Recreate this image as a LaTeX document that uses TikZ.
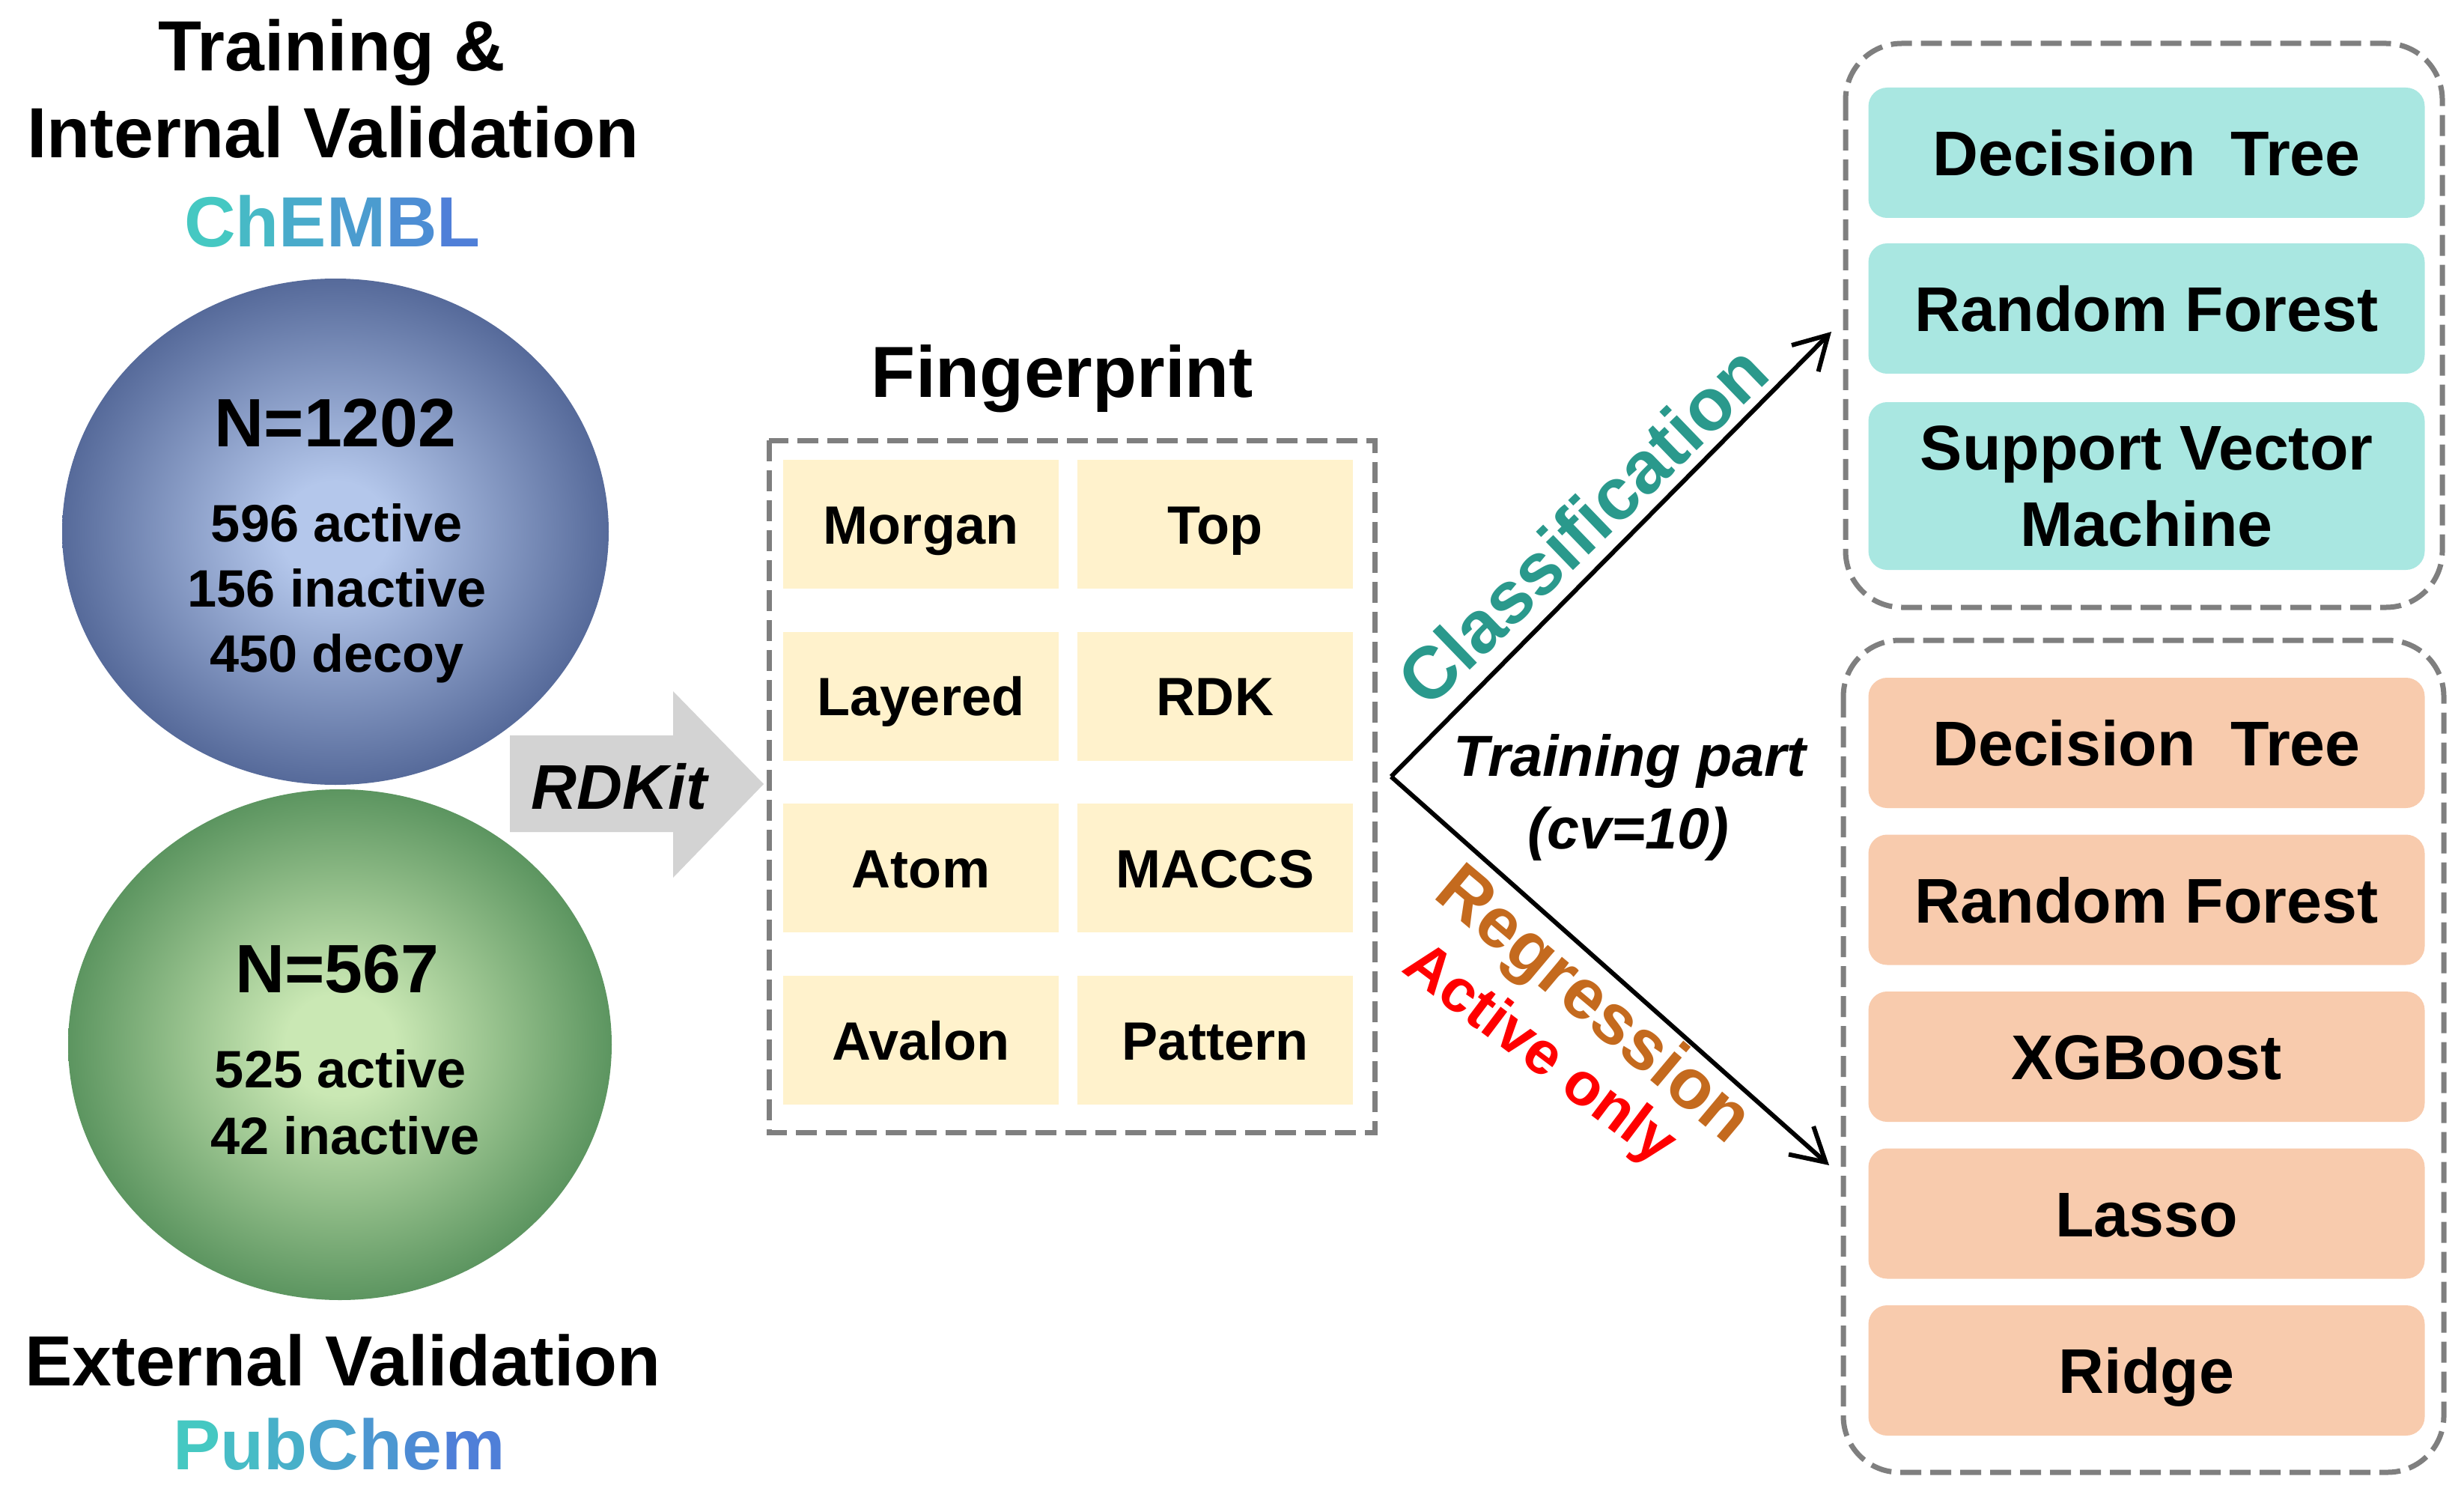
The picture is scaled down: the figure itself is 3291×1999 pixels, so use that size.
\documentclass[tikz,border=0pt]{standalone}
\usepackage{fontspec}
\setmainfont{Liberation Sans}
\usepackage{tikz}
\usetikzlibrary{arrows.meta}
\usetikzlibrary{positioning}
\usetikzlibrary{shapes.geometric}
\definecolor{fpyellow}{HTML}{FFF2CC}
\definecolor{clsteal}{HTML}{A9E7E1}
\definecolor{regsalmon}{HTML}{F8CBAD}
\definecolor{dashgray}{HTML}{7F7F7F}
\definecolor{clstext}{HTML}{2A998C}
\definecolor{regtext}{HTML}{C46A1E}
\definecolor{dbteal}{HTML}{45C8C2}
\definecolor{dbblue}{HTML}{4F7FD8}
\definecolor{rdkgray}{HTML}{D3D3D3}
\definecolor{ballbluein}{HTML}{B4C7EB}
\definecolor{ballblueout}{HTML}{566A9A}
\definecolor{ballgreenin}{HTML}{CAE8B4}
\definecolor{ballgreenout}{HTML}{5C9560}
\pgfdeclareradialshading{blueball}{\pgfpoint{0bp}{0bp}}{color(0bp)=(ballbluein); color(5bp)=(ballbluein); color(25bp)=(ballblueout); color(50bp)=(ballblueout)}
\pgfdeclareradialshading{greenball}{\pgfpoint{0bp}{0bp}}{color(0bp)=(ballgreenin); color(5bp)=(ballgreenin); color(25bp)=(ballgreenout); color(50bp)=(ballgreenout)}
\tikzset{hdr/.style = {font=\fontsize{27}{32}\selectfont\bfseries, anchor=base, inner sep=0}}
\tikzset{count/.style = {font=\fontsize{20}{24}\selectfont\bfseries, anchor=base, inner sep=0}}
\tikzset{bignum/.style = {font=\fontsize{26}{30}\selectfont\bfseries, anchor=base, inner sep=0}}
\tikzset{fpcell/.style = {fill=fpyellow, minimum width=36.8mm, minimum height=17.2mm, inner sep=0,
    text height=5.2mm, text depth=0mm, font=\fontsize{20.5}{24}\selectfont\bfseries}}
\tikzset{mlcell/.style = {rounded corners=2.5mm, minimum width=74.3mm, minimum height=17.4mm, inner sep=0,
    align=center, text height=6.1mm, text depth=0mm, font=\fontsize{24}{29}\selectfont\bfseries}}
\tikzset{clscell/.style = {mlcell, fill=clsteal}}
\tikzset{regcell/.style = {mlcell, fill=regsalmon}}
\tikzset{dashbox/.style = {draw=dashgray, line width=0.7mm, dash pattern=on 2.8mm off 1.2mm}}
\tikzset{flow/.style = {line width=0.6mm, -{Straight Barb[length=4.4mm, width=5mm]}}}

\begin{document}
\begin{tikzpicture}[x=0.1mm, y=-0.1mm]
      \fill[white] (0,0) rectangle (3291,1999);
      \useasboundingbox (0,0) rectangle (3291,1999);
      % data sets
      \node[hdr] (ttltrain) at (443,95) {Training \&};
      \node[hdr] (ttlinternal) at (445,211) {Internal Validation};
      \node[hdr] (chembl) at (444,330) {\textcolor{dbteal}{C}\textcolor{dbblue!20!dbteal}{h}\textcolor{dbblue!40!dbteal}{E}\textcolor{dbblue!60!dbteal}{M}\textcolor{dbblue!80!dbteal}{B}\textcolor{dbblue}{L}};
      \node[ellipse, shade, shading=blueball, minimum width=73mm, minimum height=67.6mm, inner sep=0] (chemblset) at (448,710) {};
      \node[bignum] (chembln) at (448,596) {N=1202};
      \foreach \txt/\y [count=\i] in {596 active/723, 156 inactive/810, 450 decoy/897} {
        \node[count] (chemblc\i) at (450,\y) {\txt};
      }
      \node[ellipse, shade, shading=greenball, minimum width=72.6mm, minimum height=68.2mm, inner sep=0] (pubchemset) at (454,1395) {};
      \node[bignum] (pubchemn) at (450,1325) {N=567};
      \node[count] (pubchemc1) at (455,1452) {525 active};
      \node[count] (pubchemc2) at (461,1541) {42 inactive};
      \node[hdr] (ttlexternal) at (458,1850) {External Validation};
      \node[hdr] (pubchem) at (453,1962) {\textcolor{dbteal}{P}\textcolor{dbblue!17!dbteal}{u}\textcolor{dbblue!33!dbteal}{b}\textcolor{dbblue!50!dbteal}{C}\textcolor{dbblue!67!dbteal}{h}\textcolor{dbblue!83!dbteal}{e}\textcolor{dbblue}{m}};
      % RDKit arrow
      \fill[rdkgray] (681,982) -- (899,982) -- (899,923) -- (1020,1047) -- (899,1172) -- (899,1111) -- (681,1111) -- cycle;
      \node[anchor=base, inner sep=0, font=\fontsize{24}{28}\selectfont\bfseries\itshape] (rdkit) at (827,1080) {RDKit};
      % fingerprints
      \node[hdr, font=\fontsize{27.5}{32}\selectfont\bfseries] (fptitle) at (1419,530) {Fingerprint};
      \draw[dashbox] (1027,588) rectangle (1836,1512);
      \foreach \fp [count=\i from 0] in {Morgan, Top, Layered, RDK, Atom, MACCS, Avalon, Pattern} {
        \pgfmathtruncatemacro\col{mod(\i,2)};
        \pgfmathtruncatemacro\row{div(\i,2)};
        \node[fpcell] (fp\i) at ({1230+393*\col}, {700+229.7*\row}) {\fp};
      }
      % split
      \coordinate (split) at (1858,1037);
      \coordinate (clsend) at (2446,443);
      \coordinate (regend) at (2443,1556);
      \draw[flow] (split) -- (clsend);
      \draw[flow] (split) -- (regend);
      \node[rotate=44, text=clstext, inner sep=0, font=\fontsize{28}{32}\selectfont\bfseries] (clslbl) at (2113,701) {Classification};
      \node[rotate=-40, text=regtext, inner sep=0, font=\fontsize{27}{32}\selectfont\bfseries] (reglbl) at (2126,1345) {Regression};
      \node[rotate=-37, text=red, inner sep=0, font=\fontsize{23}{28}\selectfont\bfseries] (activelbl) at (2055,1410) {Active only};
      \node[anchor=base, inner sep=0, font=\fontsize{22}{27}\selectfont\bfseries\itshape] (trainlbl) at (2177,1036) {Training part};
      \node[anchor=base, inner sep=0, font=\fontsize{22}{27}\selectfont\bfseries\itshape] (cvlbl) at (2175,1133) {(cv=10)};
      % models
      \draw[dashbox, rounded corners=7.5mm] (2465,58) rectangle (3262,811);
      \node[clscell] (cls0) at (2867,204) {Decision\hspace{0.55em}Tree};
      \node[clscell] (cls1) at (2867,412) {Random Forest};
      \node[clscell, minimum height=22.4mm, text height=, text depth=] (cls2) at (2867,649) {Support Vector\\Machine};
      \draw[dashbox, rounded corners=7.5mm] (2462,855) rectangle (3264,1966);
      \foreach \model [count=\i from 0] in {{Decision\hspace{0.55em}Tree}, Random Forest, XGBoost, Lasso, Ridge} {
        \node[regcell] (reg\i) at (2867, {992+209.5*\i}) {\model};
      }
    \end{tikzpicture}
\end{document}
